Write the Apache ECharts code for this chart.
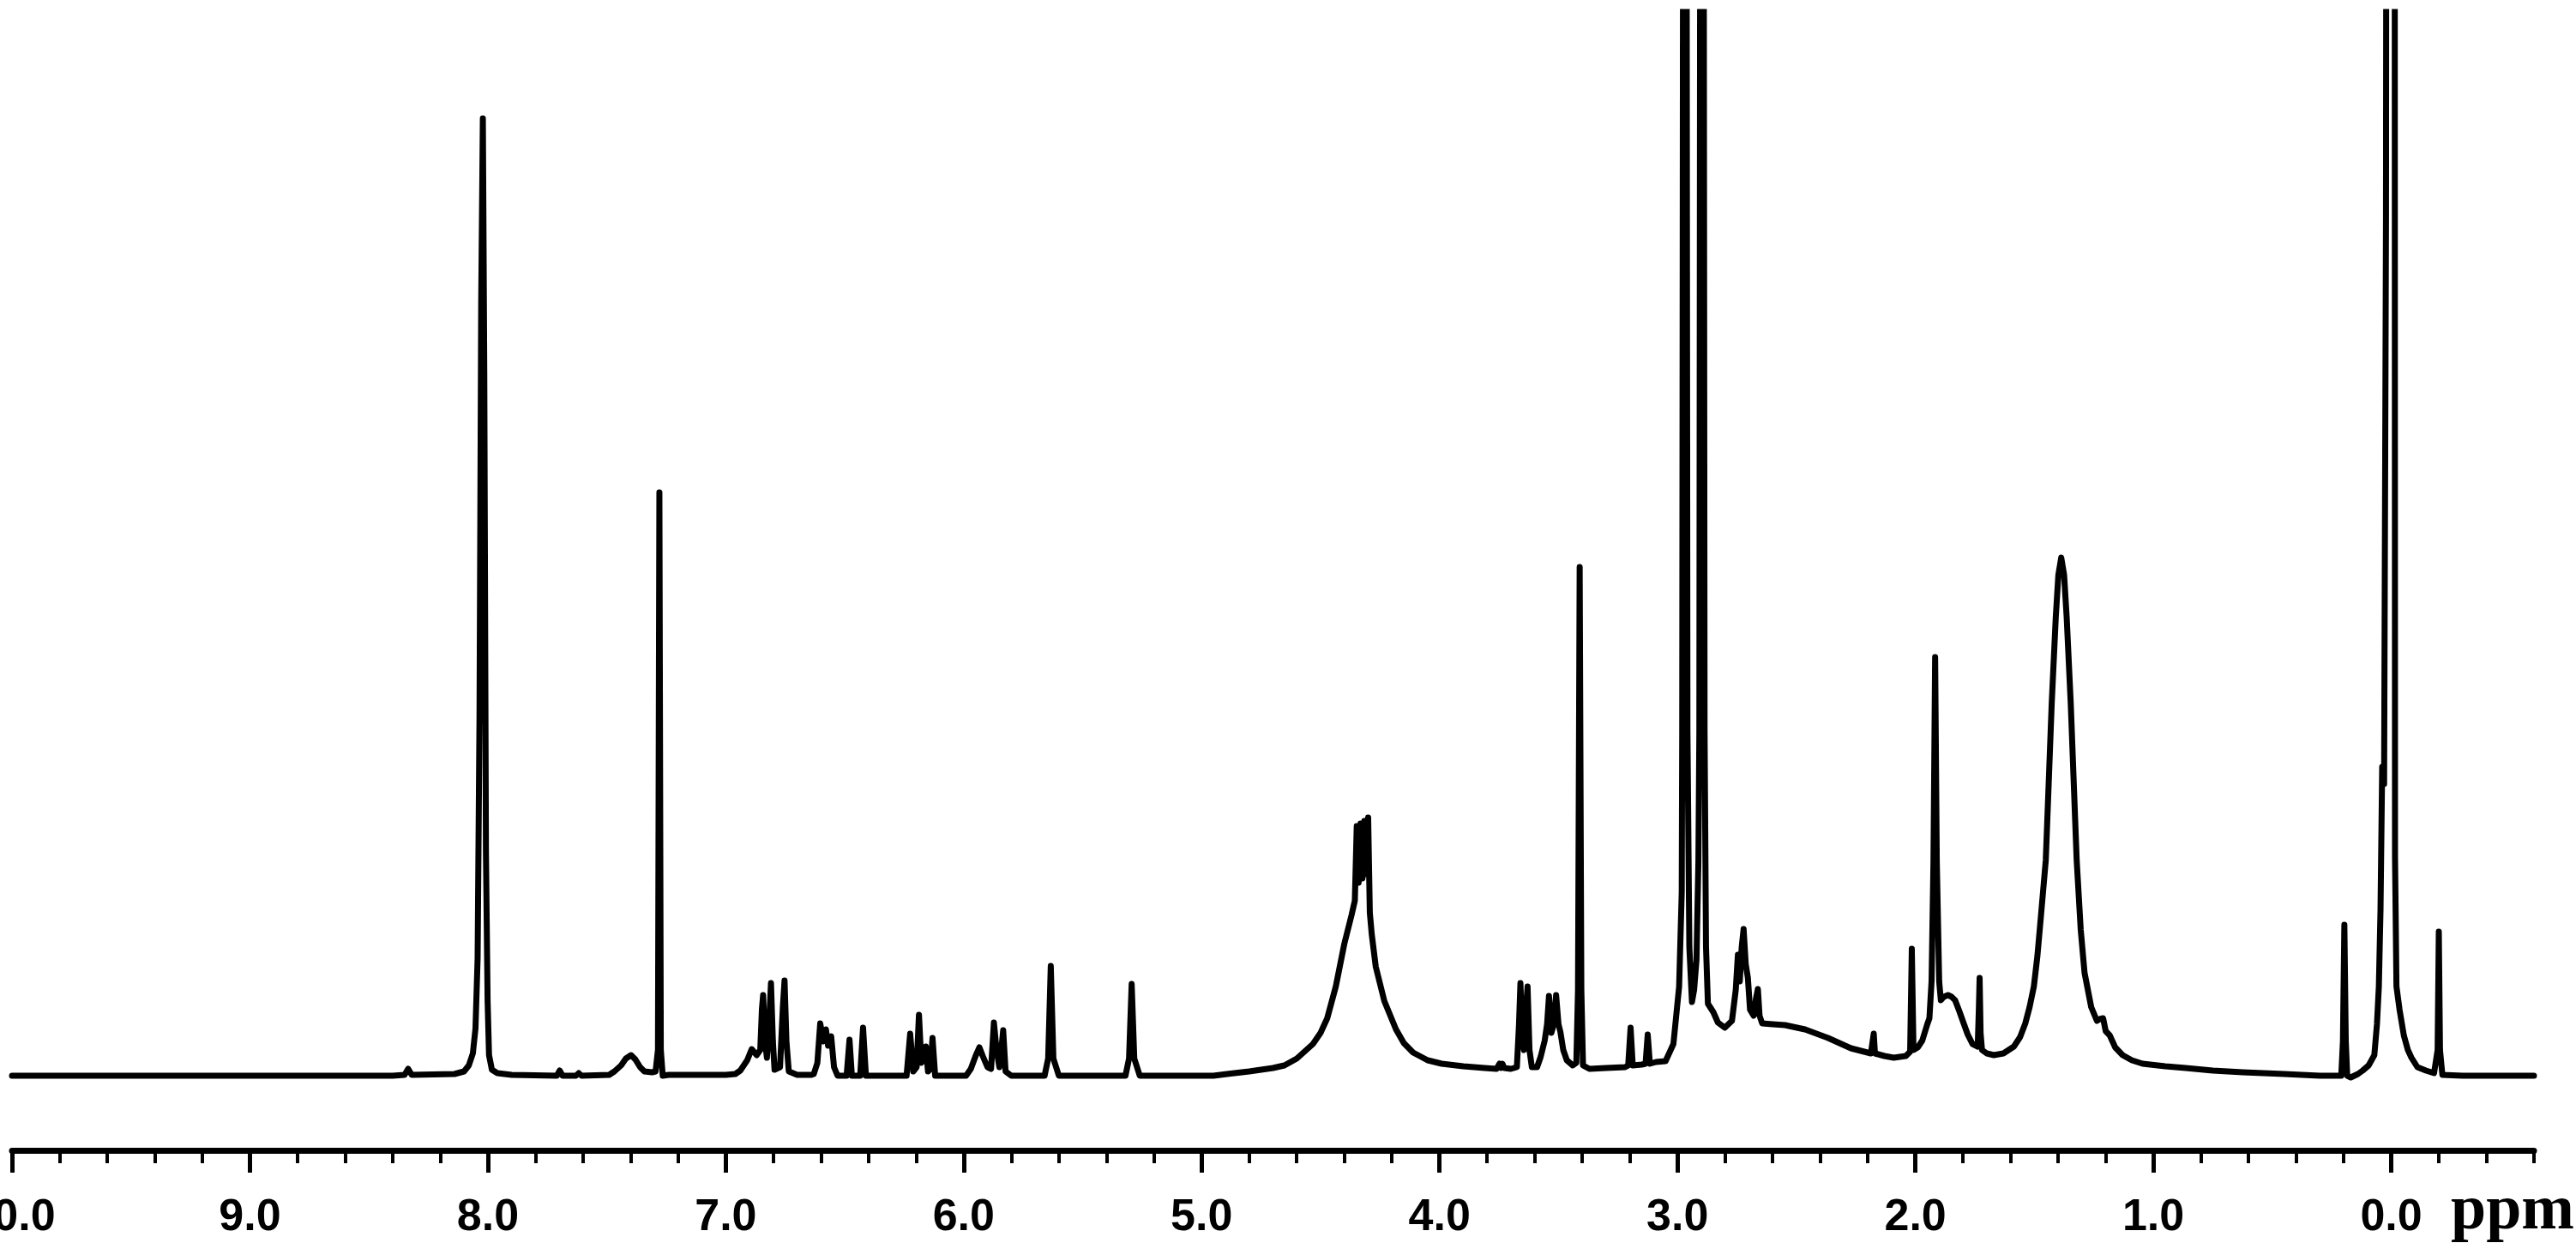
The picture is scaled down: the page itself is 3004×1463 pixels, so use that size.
<!DOCTYPE html>
<html>
<head>
<meta charset="utf-8">
<title>1H NMR</title>
<script src="https://cdn.jsdelivr.net/npm/echarts@6/dist/echarts.min.js"></script>
<style>
  html, body { margin: 0; padding: 0; background: #fff; }
  #nmr-spectrum { width: 3004px; height: 1463px; }
</style>
</head>
<body>
<div id="nmr-spectrum"></div>
<script>
// [chemical shift (ppm), intensity], high field to the right
const aromaticRegion = [
  [10.0, 0], [8.40, 0], [8.35, 1], [8.335, 8], [8.32, 1], [8.14, 2], [8.10, 5], [8.08, 12],
  [8.063, 26], [8.052, 55], [8.043, 137], [8.035, 420], [8.028, 900], [8.021, 1116], [8.015, 820],
  [8.008, 260], [8.001, 87], [7.995, 24], [7.983, 7], [7.96, 3], [7.90, 1], [7.71, 0], [7.698, 6],
  [7.686, 0], [7.63, 0], [7.618, 3], [7.606, 0], [7.49, 1], [7.468, 5], [7.44, 12], [7.42, 20],
  [7.398, 24], [7.38, 19], [7.36, 10], [7.342, 5], [7.31, 4], [7.295, 5], [7.285, 30], [7.279, 680],
  [7.273, 30], [7.265, 0], [7.24, 1], [7.00, 1], [6.96, 2], [6.939, 6], [6.91, 18], [6.891, 31],
  [6.87, 24], [6.855, 30], [6.848, 78], [6.843, 94], [6.835, 40], [6.827, 21], [6.818, 60],
  [6.810, 108], [6.802, 40], [6.795, 7], [6.772, 10], [6.760, 80], [6.753, 111], [6.745, 40],
  [6.735, 5], [6.70, 1], [6.64, 1]
];

const olefinRegion = [
  [6.63, 2], [6.615, 15], [6.603, 61], [6.590, 40], [6.579, 54], [6.570, 35], [6.557, 46],
  [6.545, 10], [6.53, 0], [6.492, 0], [6.480, 42], [6.470, 0], [6.435, 0], [6.423, 56], [6.411, 0],
  [6.24, 0], [6.225, 49], [6.212, 5], [6.198, 10], [6.188, 71], [6.178, 15], [6.165, 20],
  [6.159, 34], [6.150, 5], [6.140, 8], [6.131, 44], [6.120, 0], [5.99, 0], [5.97, 8], [5.95, 23],
  [5.934, 33], [5.92, 23], [5.90, 10], [5.885, 8], [5.873, 62], [5.862, 30], [5.850, 10],
  [5.842, 30], [5.834, 53], [5.824, 5], [5.80, 0], [5.66, 0], [5.645, 20], [5.634, 128],
  [5.623, 20], [5.60, 0], [5.32, 0], [5.305, 20], [5.294, 107], [5.283, 20], [5.26, 0], [4.95, 0]
];

const midRegion = [
  [4.893, 2], [4.80, 5], [4.70, 9], [4.652, 12], [4.60, 20], [4.532, 37], [4.50, 50], [4.472, 67],
  [4.436, 104], [4.400, 154], [4.370, 187], [4.356, 204], [4.348, 291], [4.340, 225], [4.332, 294],
  [4.324, 230], [4.316, 297], [4.308, 235], [4.300, 301], [4.293, 190], [4.285, 165], [4.268, 127],
  [4.232, 87], [4.183, 54], [4.150, 38], [4.111, 27], [4.05, 18], [3.991, 14], [3.90, 11],
  [3.811, 9], [3.76, 8], [3.748, 14], [3.742, 9], [3.736, 14], [3.728, 9], [3.70, 8], [3.675, 10],
  [3.666, 60], [3.660, 108], [3.652, 40], [3.645, 30], [3.636, 80], [3.630, 104], [3.622, 30],
  [3.612, 10], [3.590, 10], [3.575, 22], [3.558, 41], [3.548, 60], [3.540, 93], [3.530, 50],
  [3.520, 60], [3.510, 94], [3.500, 60], [3.492, 51], [3.480, 30], [3.465, 18], [3.44, 12],
  [3.425, 15], [3.418, 100], [3.411, 593], [3.404, 100], [3.397, 12], [3.37, 8], [3.30, 9],
  [3.22, 10], [3.207, 12], [3.197, 56], [3.188, 12], [3.15, 13], [3.134, 14], [3.125, 48],
  [3.116, 14], [3.09, 16], [3.05, 17], [3.017, 37], [2.993, 104], [2.982, 214], [2.980, 400],
  [2.976, 1500], [2.969, 3000], [2.962, 1500], [2.958, 400], [2.950, 150], [2.939, 86],
  [2.930, 100], [2.920, 135], [2.912, 250], [2.908, 400], [2.904, 1500], [2.897, 3000],
  [2.890, 1500], [2.886, 400], [2.880, 150], [2.872, 84], [2.849, 74], [2.830, 62], [2.801, 56],
  [2.771, 64], [2.755, 100], [2.746, 141], [2.738, 110], [2.730, 150], [2.722, 171], [2.713, 130],
  [2.704, 114], [2.695, 77], [2.680, 70], [2.670, 90], [2.662, 101], [2.655, 70], [2.644, 61]
];

const aliphaticRegion = [
  [2.60, 60], [2.548, 59], [2.464, 54], [2.367, 44], [2.271, 32], [2.187, 26], [2.180, 27],
  [2.175, 49], [2.170, 26], [2.13, 23], [2.091, 21], [2.040, 23], [2.022, 28], [2.015, 148],
  [2.008, 30], [1.990, 33], [1.971, 41], [1.950, 60], [1.941, 67], [1.932, 110], [1.924, 250],
  [1.917, 488], [1.910, 250], [1.900, 110], [1.893, 88], [1.880, 92], [1.863, 94], [1.848, 92],
  [1.833, 88], [1.815, 75], [1.797, 61], [1.780, 48], [1.760, 37], [1.738, 34], [1.733, 80],
  [1.730, 114], [1.726, 50], [1.720, 30], [1.700, 26], [1.670, 24], [1.630, 26], [1.586, 34],
  [1.560, 45], [1.538, 61], [1.520, 80], [1.502, 104], [1.487, 140], [1.472, 187], [1.452, 251],
  [1.427, 434], [1.410, 534], [1.399, 584], [1.387, 604], [1.375, 584], [1.364, 534], [1.347, 434],
  [1.322, 251], [1.305, 170], [1.289, 120], [1.261, 80], [1.237, 64], [1.225, 66], [1.211, 67],
  [1.200, 52], [1.183, 47], [1.160, 33], [1.129, 24], [1.090, 18], [1.045, 14], [0.950, 11],
  [0.864, 9], [0.750, 6], [0.624, 4], [0.450, 2], [0.300, 0], [0.210, 0], [0.203, 40],
  [0.197, 176], [0.191, 40], [0.185, 0], [0.170, -2], [0.140, 2], [0.120, 6], [0.095, 12],
  [0.071, 24], [0.060, 60], [0.052, 104], [0.045, 194], [0.038, 360], [0.030, 340], [0.022, 1000],
  [0.016, 3000], [0.004, 4000], [-0.013, 3000], [-0.016, 254], [-0.022, 104], [-0.035, 77],
  [-0.053, 47], [-0.070, 30], [-0.085, 21], [-0.110, 10], [-0.146, 6], [-0.180, 3], [-0.195, 30],
  [-0.200, 168], [-0.205, 30], [-0.215, 1], [-0.30, 0], [-0.60, 0]
];

const majorTicks = [10, 9, 8, 7, 6, 5, 4, 3, 2, 1, 0];
const minorTicks = [
  10, 9.8, 9.6, 9.4, 9.2, 9, 8.8, 8.6, 8.4, 8.2, 8, 7.8, 7.6, 7.4, 7.2, 7, 6.8, 6.6, 6.4, 6.2,
  6, 5.8, 5.6, 5.4, 5.2, 5, 4.8, 4.6, 4.4, 4.2, 4, 3.8, 3.6, 3.4, 3.2, 3, 2.8, 2.6, 2.4, 2.2,
  2, 1.8, 1.6, 1.4, 1.2, 1, 0.8, 0.6, 0.4, 0.2, 0, -0.2, -0.4, -0.6
];
const axisUnit = 'ppm';

const spectrum = aromaticRegion.concat(olefinRegion, midRegion, aliphaticRegion);

const chart = echarts.init(document.getElementById('nmr-spectrum'));

const option = {
  animation: false,
  backgroundColor: '#fff',
  grid: { left: 14, right: 49, top: 14, bottom: 122, outerBoundsMode: 'none', containLabel: false },
  xAxis: [
    {
      type: 'value',
      position: 'bottom',
      min: -0.6,
      max: 10,
      inverse: true,
      axisLine: { onZero: false, lineStyle: { color: '#000', width: 7 } },
      axisTick: { customValues: majorTicks, length: 26, lineStyle: { color: '#000', width: 5 } },
      axisLabel: {
        customValues: majorTicks,
        formatter: v => v.toFixed(1),
        margin: 53,
        color: '#000',
        fontSize: 52,
        fontWeight: 'bold',
        fontFamily: 'Liberation Sans',
        showMinLabel: true,
        showMaxLabel: true
      },
      splitLine: { show: false }
    },
    {
      // short ticks every 0.2 ppm
      type: 'value',
      position: 'bottom',
      offset: 0,
      min: -0.6,
      max: 10,
      inverse: true,
      axisLine: { show: false, onZero: false },
      axisTick: { customValues: minorTicks, length: 15, lineStyle: { color: '#000', width: 4 } },
      axisLabel: { show: false },
      splitLine: { show: false }
    }
  ],
  yAxis: { type: 'value', min: -87, max: 1240, show: false },
  graphic: [
    {
      type: 'text',
      left: 2858,
      top: 1376,
      style: { text: axisUnit, font: 'bold 74px "Liberation Serif"', fill: '#000' }
    }
  ],
  series: [
    {
      name: 'spectrum',
      type: 'line',
      xAxisIndex: 0,
      data: spectrum,
      symbol: 'none',
      clip: true,
      lineStyle: { color: '#000', width: 7, join: 'round', cap: 'round' }
    }
  ]
};

chart.setOption(option);
</script>
</body>
</html>
